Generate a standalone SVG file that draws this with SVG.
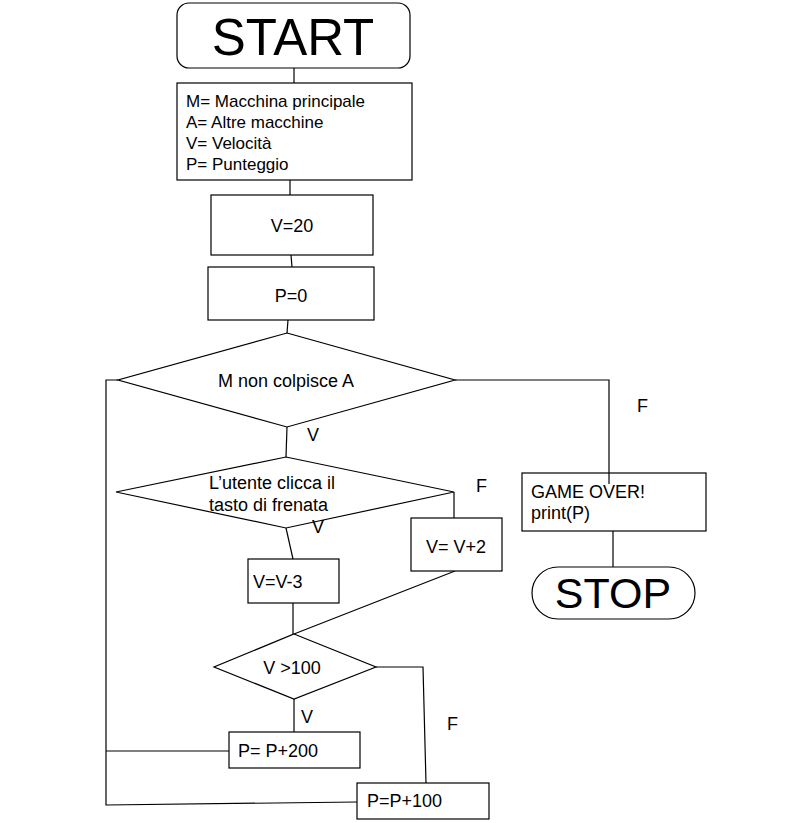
<svg xmlns="http://www.w3.org/2000/svg" width="795" height="823" viewBox="0 0 795 823">
<style>
.s{fill:#fff;stroke:#000;stroke-width:1.2}
.c{fill:none;stroke:#000;stroke-width:1.2}
text{font-family:"Liberation Sans",Arial,sans-serif;fill:#000;font-size:18px}
.m{text-anchor:middle}
.big{font-size:51px}
.stp{font-size:43px}
.sm{font-size:17px}
</style>
<rect width="795" height="823" fill="#fff"/>
<g id="connectors">
<path class="c" d="M294,68 L294,83"/>
<path class="c" d="M290,180 L290,195"/>
<path class="c" d="M291,255 L292,267"/>
<path class="c" d="M288,320 L287,333"/>
<path class="c" d="M455,380 L609,380 L609,484"/>
<path class="c" d="M287,427 L286,457"/>
<path class="c" d="M454,492 L454,518"/>
<path class="c" d="M286,528 L293,559"/>
<path class="c" d="M293,603 L293,634"/>
<path class="c" d="M455,571 L294,634"/>
<path class="c" d="M376,667 L423,667 L426,783"/>
<path class="c" d="M294,699 L294,732"/>
<path class="c" d="M229,751 L106,751"/>
<path class="c" d="M357,802 L106,805 L106,380 L118,380"/>
<path class="c" d="M613,531 L613,567"/>
</g>
<g id="start"><rect class="s" x="177" y="3" width="233" height="65" rx="12"/><text class="m big" x="293" y="55">START</text></g>
<g id="vars"><rect class="s" x="177" y="83" width="235" height="97"/>
<text class="sm" x="186" y="107">M= Macchina principale</text>
<text class="sm" x="186" y="128">A= Altre macchine</text>
<text class="sm" x="186" y="149">V= Velocità</text>
<text class="sm" x="186" y="170">P= Punteggio</text></g>
<g id="v20"><rect class="s" x="211" y="195" width="162" height="60"/><text class="m" x="292" y="232">V=20</text></g>
<g id="p0"><rect class="s" x="208" y="267" width="166" height="53"/><text class="m" x="291" y="302">P=0</text></g>
<g id="d1"><polygon class="s" points="287,333 455,380 287,427 118,380"/><text class="m" x="286" y="387">M non colpisce A</text></g>
<text x="307" y="441">V</text>
<text x="637" y="412">F</text>
<g id="d2"><polygon class="s" points="286,457 454,492 286,528 116,492"/>
<text x="209" y="489">L’utente clicca il</text><text x="209" y="511">tasto di frenata</text></g>
<text x="312" y="533">V</text>
<text x="476" y="492">F</text>
<g id="vplus"><rect class="s" x="411" y="518" width="91" height="53"/><text x="426" y="553">V= V+2</text></g>
<g id="vminus"><rect class="s" x="248" y="559" width="91" height="44"/><text x="253" y="588">V=V-3</text></g>
<g id="d3"><polygon class="s" points="294,634 376,667 294,699 214,667"/><text class="m" x="292" y="674">V &gt;100</text></g>
<text x="301" y="723">V</text>
<text x="447" y="730">F</text>
<g id="p200"><rect class="s" x="229" y="732" width="131" height="36"/><text x="238" y="757">P= P+200</text></g>
<g id="p100"><rect class="s" x="357" y="783" width="132" height="36"/><text x="367" y="807">P=P+100</text></g>
<g id="gameover"><rect class="s" x="522" y="473" width="184" height="58"/>
<text x="531" y="498">GAME OVER!</text><text x="531" y="519">print(P)</text></g>
<path class="c" d="M609,473 L609,484"/>
<g id="stop"><rect class="s" x="532" y="567" width="163" height="52" rx="26"/><text class="m stp" x="613" y="608">STOP</text></g>
</svg>
